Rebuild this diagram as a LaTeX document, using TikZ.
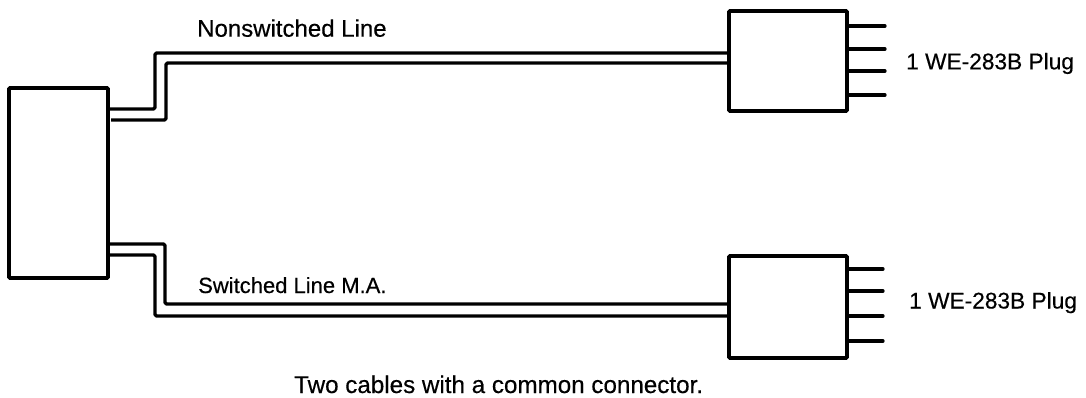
\documentclass[tikz,border=0pt]{standalone}
\usepackage{fontspec}
\setmainfont{Liberation Sans}[FakeBold=0.4]
\tikzset{
  unitbox/.style={draw=black,line width=3.6pt,rounded corners=1pt,inner sep=0pt,fill=white},
  cablewire/.style={draw=black,line width=3.4pt,line join=round,rounded corners=1.5pt},
  pinwire/.style={draw=black,line width=3.2pt,line cap=round},
  lbl/.style={inner sep=0pt,anchor=base west},
  sizeA/.style={font=\fontsize{24pt}{26pt}\selectfont},
  sizeB/.style={font=\fontsize{22pt}{24pt}\selectfont},
  sizeC/.style={font=\fontsize{22.7pt}{25pt}\selectfont},
  sizeD/.style={font=\fontsize{24.2pt}{26pt}\selectfont}
}
\begin{document}
\begin{tikzpicture}[x=1pt,y=-1pt]
\useasboundingbox (0,0) rectangle (1086,398);
% boxes
\node[unitbox,minimum width=99pt,minimum height=190pt] (L) at (58.5,183) {};
\node[unitbox,minimum width=118pt,minimum height=100pt] (P1) at (788,61) {};
\node[unitbox,minimum width=118pt,minimum height=102pt] (P2) at (788,307) {};
% cable ends on boxes
\coordinate (a1) at (108,109); \coordinate (a2) at (111,120);
\coordinate (b1) at (108,244); \coordinate (b2) at (108,255);
\coordinate (c1) at (729,53);  \coordinate (c2) at (729,63);
\coordinate (d1) at (729,304); \coordinate (d2) at (729,316);
% cables
\draw[cablewire] (a1) -- (155,109) -- (155,53) -- (c1);
\draw[cablewire] (a2) -- (166,120) -- (166,63) -- (c2);
\draw[cablewire] (b1) -- (165,244) -- (165,304) -- (d1);
\draw[cablewire] (b2) -- (155,255) -- (155,316) -- (d2);
% pins
\foreach \n/\y in {1/26,2/49,3/71,4/95}{
  \coordinate (p\n) at (885,\y);
  \draw[pinwire] (P1.east |- p\n) -- (p\n);
}
\foreach \n/\y in {1/269,2/291,3/316,4/341}{
  \coordinate (q\n) at (883,\y);
  \draw[pinwire] (P2.east |- q\n) -- (q\n);
}
% labels
\node[lbl,sizeA] (t1) at (197,36.7) {Nonswitched Line};
\node[lbl,sizeB] (t2) at (198,293) {Switched Line M.A.};
\node[lbl,sizeC] (t3) at (906,69.3) {1 WE-283B Plug};
\node[lbl,sizeC] (t4) at (909,308.5) {1 WE-283B Plug};
\node[lbl,sizeD] (t5) at (294,393) {Two cables with a common connector.};
\end{tikzpicture}
\end{document}
